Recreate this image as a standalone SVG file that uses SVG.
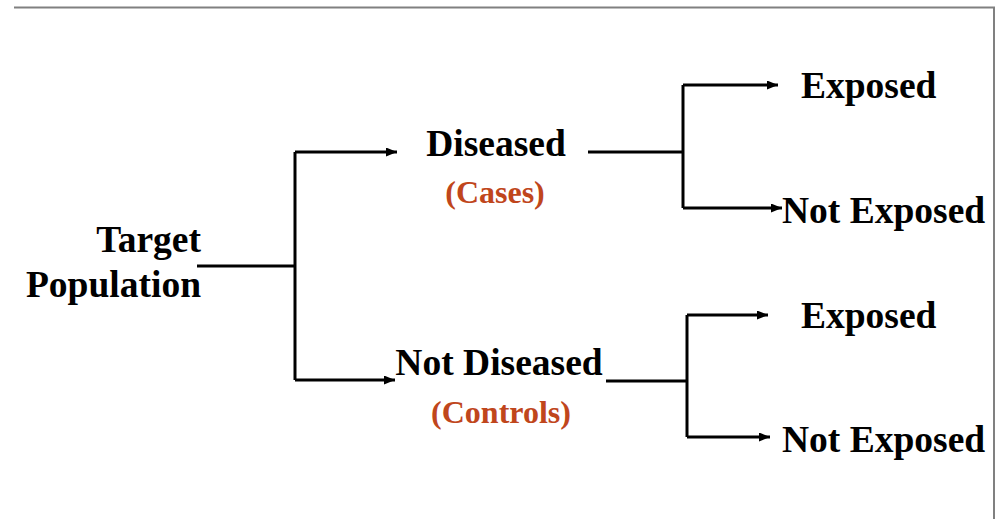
<svg xmlns="http://www.w3.org/2000/svg" width="999" height="519" viewBox="0 0 999 519">
<defs>
<marker id="ah" markerWidth="11" markerHeight="9" refX="11" refY="4.5" orient="auto" markerUnits="userSpaceOnUse">
<path d="M0,0 L11,4.5 L0,9 Z" fill="#000"/>
</marker>
</defs>
<style>
.t{font-family:"Liberation Serif","Times New Roman",serif;font-weight:bold;font-size:37.5px;fill:#000}
.s{font-family:"Liberation Serif","Times New Roman",serif;font-weight:bold;font-size:32px;fill:#C0461C}
.c{fill:none;stroke:#000;stroke-width:3}
.a{fill:none;stroke:#000;stroke-width:3;marker-end:url(#ah)}
</style>
<rect width="999" height="519" fill="#fff"/>
<path d="M14,7.5 H994 V519" fill="none" stroke="#808080" stroke-width="2"/>
<g id="connectors">
<path class="c" d="M197,266 H295"/>
<path class="c" d="M295,152 V380"/>
<path class="a" d="M295,152 H397"/>
<path class="a" d="M295,380 H395"/>
<path class="c" d="M588,152 H683"/>
<path class="c" d="M683,85 V208"/>
<path class="a" d="M683,85 H778"/>
<path class="a" d="M683,208 H782"/>
<path class="c" d="M606,381 H687"/>
<path class="c" d="M687,315 V437"/>
<path class="a" d="M687,315 H768"/>
<path class="a" d="M687,437 H770"/>
</g>
<g id="target">
<text class="t" x="201" y="252" text-anchor="end">Target</text>
<text class="t" x="201" y="297" text-anchor="end">Population</text>
</g>
<g id="diseased">
<text class="t" x="496" y="156" text-anchor="middle">Diseased</text>
<text class="s" x="495" y="203" text-anchor="middle">(Cases)</text>
</g>
<g id="notdiseased">
<text class="t" x="499" y="375" text-anchor="middle">Not Diseased</text>
<text class="s" x="501" y="423" text-anchor="middle">(Controls)</text>
</g>
<g id="exposed1"><text class="t" x="801" y="98">Exposed</text></g>
<g id="notexposed1"><text class="t" x="782" y="223">Not Exposed</text></g>
<g id="exposed2"><text class="t" x="801" y="328">Exposed</text></g>
<g id="notexposed2"><text class="t" x="782" y="452">Not Exposed</text></g>
</svg>
